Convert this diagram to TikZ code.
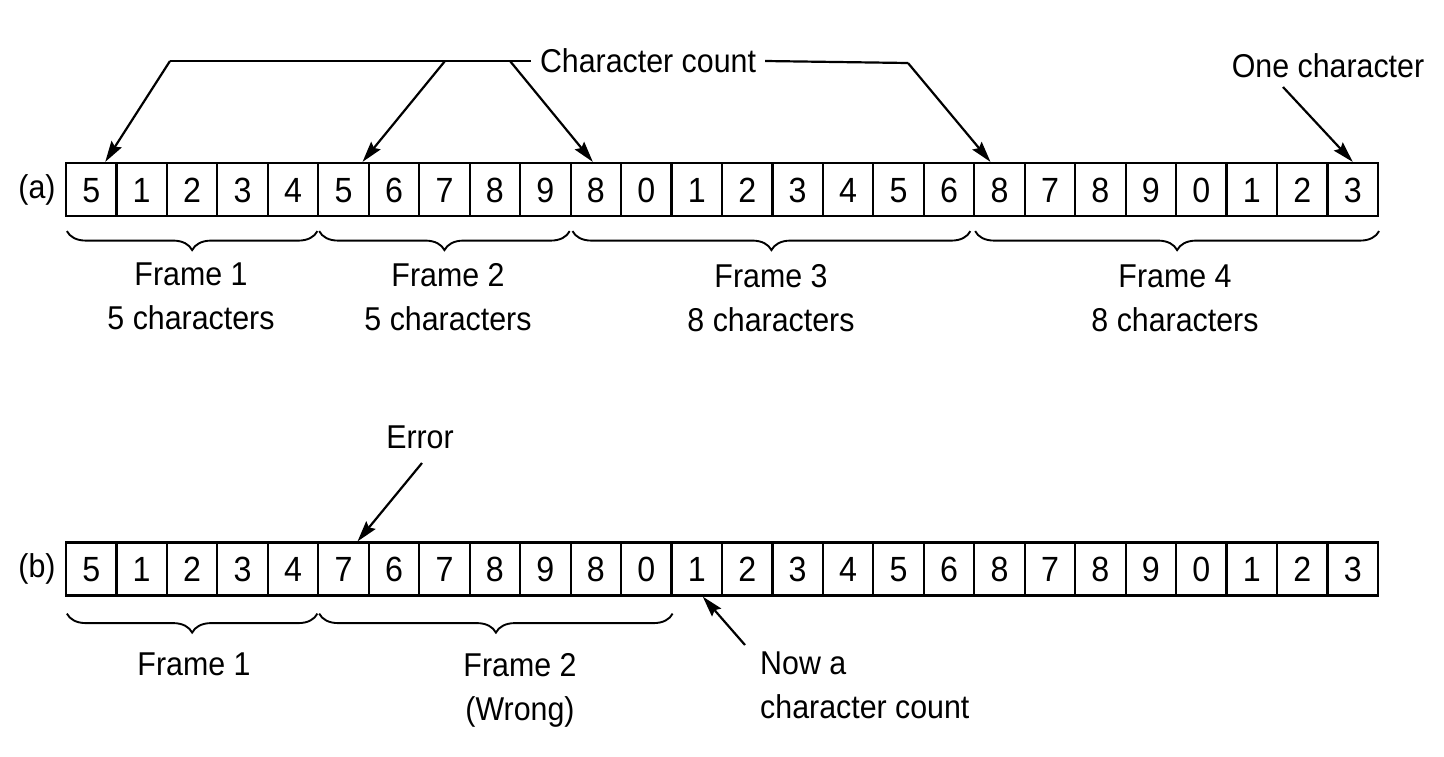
\documentclass[tikz,border=0pt]{standalone}
\usepackage{fontspec}
\setmainfont{Liberation Sans}[FakeStretch=0.92]
\usetikzlibrary{arrows.meta,decorations.pathreplacing,calc}
\begin{document}
\begin{tikzpicture}[x=1pt,y=-1pt,
  cell/.style={draw,line width=2.2pt,minimum width=50.46pt,minimum height=53pt,inner sep=0pt,
    text height=25pt,text depth=0pt,font=\fontsize{35}{40}\selectfont},
  lbl/.style={font=\fontsize{33}{44}\selectfont,inner sep=0pt,align=center},
  arr/.style={line width=2.2pt,-{Stealth[length=21pt,width=12pt,inset=3pt]}},
  ln/.style={line width=2.2pt},
  brc/.style={line width=1.9pt,decorate,decoration={brace,mirror,amplitude=19pt}}]
\useasboundingbox (0,0) rectangle (1444,756);
\fill[white] (0,0) rectangle (1444,756);
% row (a)
\foreach \d [count=\i] in {5,1,2,3,4,5,6,7,8,9,8,0,1,2,3,4,5,6,8,7,8,9,0,1,2,3}
  \node[cell] (a\i) at ({66+50.46*(\i-0.5)},189.5) {\d};
% row (b)
\foreach \d [count=\i] in {5,1,2,3,4,7,6,7,8,9,8,0,1,2,3,4,5,6,8,7,8,9,0,1,2,3}
  \node[cell] (b\i) at ({66+50.46*(\i-0.5)},569) {\d};
\node[lbl] (la) at (37,189.5) {(a)};
\node[lbl] (lb) at (37,569) {(b)};
% braces (a)
\draw[brc] ($(a1.south west)+(2,14)$) -- ($(a5.south east)+(-2,14)$);
\draw[brc] ($(a6.south west)+(2,14)$) -- ($(a10.south east)+(-2,14)$);
\draw[brc] ($(a11.south west)+(3,14)$) -- ($(a18.south east)+(-5,14)$);
\draw[brc] ($(a19.south west)+(2,14)$) -- ($(a26.south east)+(0,14)$);
\node[lbl,anchor=north] (f1) at (191,263) {Frame 1\\5 characters};
\node[lbl,anchor=north] (f2) at (448,263) {Frame 2\\5 characters};
\node[lbl,anchor=north] (f3) at (771,264) {Frame 3\\8 characters};
\node[lbl,anchor=north] (f4) at (1175,265) {Frame 4\\8 characters};
% braces (b)
\draw[brc] ($(b1.south west)+(2,17)$) -- ($(b5.south east)+(-2,17)$);
\draw[brc] ($(b6.south west)+(2,17)$) -- ($(b12.south east)+(0,17)$);
\node[lbl,anchor=north] (g1) at (194,653) {Frame 1};
\node[lbl,anchor=north] (g2) at (520,653) {Frame 2\\(Wrong)};
% annotations
\node[lbl,inner xsep=9pt] (cc) at (648,61) {Character count};
\node[lbl] (oc) at (1328,66) {One character};
\node[lbl] (er) at (420,437) {Error};
\node[lbl,align=left,anchor=north west] (na) at (760,652) {Now a\\character count};
\coordinate (c1) at (170,61);
\coordinate (c2) at (445,61);
\coordinate (c3) at (510,61);
\coordinate (c4) at (908,63);
\coordinate (oct) at (1283,87);
\coordinate (ert) at (422,463);
\coordinate (nat) at (745,645);
\draw[ln] (cc.west) -- (c1);
\draw[arr] (c1) -- ([xshift=14pt]a1.north);
\draw[arr] (c2) -- ([xshift=19pt]a6.north);
\draw[arr] (c3) -- ([xshift=-3pt]a11.north);
\draw[ln] (cc.east) -- (c4);
\draw[arr] (c4) -- ([xshift=-9pt]a19.north);
\draw[arr] (oct) -- (a26.north);
\draw[arr] (ert) -- ([xshift=14pt]b6.north);
\draw[arr] (nat) -- ([xshift=6pt]b13.south);
\end{tikzpicture}
\end{document}
